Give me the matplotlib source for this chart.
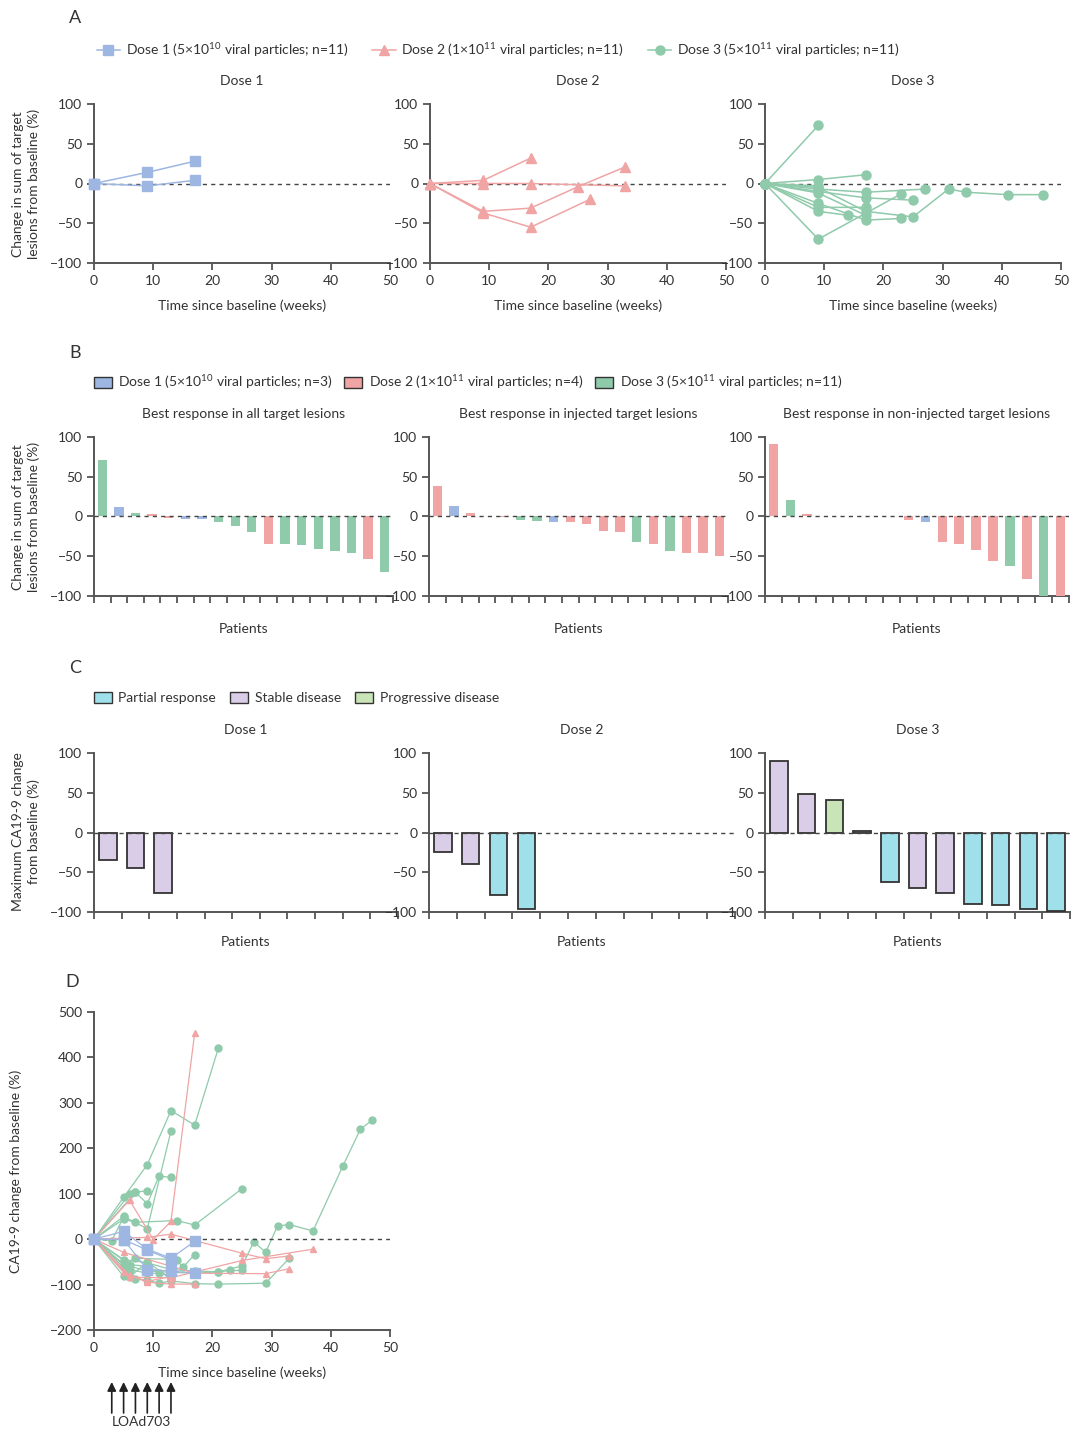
import matplotlib
matplotlib.use('Agg')
from matplotlib import pyplot as plt
from matplotlib.lines import Line2D
from matplotlib.patches import Patch

plt.rcParams['font.family'] = ['Lato', 'DejaVu Sans']
plt.rcParams['font.size'] = 10

# ---- data ----
# panel A: change in sum of target lesions over time
a_dose1_weeks = [[0, 9, 17], [0, 9, 17]]
a_dose1_vals = [[0, 14, 28], [0, -3, 4]]
a_dose2_weeks = [[0, 9, 17], [0, 9, 17, 33], [0, 9, 17, 25, 33], [0, 9, 17, 27]]
a_dose2_vals = [[0, 4, 32], [0, 0, 0, -3], [0, -35, -31, -4, 21], [0, -37, -55, -20]]
a_dose3_weeks = [[0, 9], [0, 9, 17], [0, 9, 17, 27], [0, 9, 17, 25],
                 [0, 9, 17, 25, 31, 34, 41, 47], [0, 9, 17, 23], [0, 9, 14],
                 [0, 9, 17], [0, 9, 23], [0, 9, 17], [0, 9]]
a_dose3_vals = [[0, 73], [0, 5, 11], [0, -7, -11, -7], [0, -10, -18, -21],
                [0, -5, -35, -42, -7, -11, -14, -14], [0, -25, -46, -44], [0, -35, -40],
                [0, -30, -30], [0, -70, -13], [0, -12, -40], [0, -3]]

# panel B: best response (waterfall), dose group per bar
b_all_vals = [71, 12, 4, 3, -2, -3, -3, -7, -12, -20, -34, -35, -36, -41, -44, -46, -54, -70]
b_all_dose = [3, 1, 3, 2, 2, 1, 1, 3, 3, 3, 2, 3, 3, 3, 3, 3, 2, 3]
b_inj_vals = [38, 13, 4, 0, -1, -5, -6, -7, -7, -9, -18, -20, -32, -34, -44, -46, -46, -50]
b_inj_dose = [2, 1, 2, 2, 2, 3, 3, 1, 2, 2, 2, 2, 3, 2, 3, 2, 2, 2]
b_non_vals = [91, 21, 3, 0, 0, 0, 0, 0, -5, -7, -32, -34, -42, -56, -62, -79, -100, -100]
b_non_dose = [2, 3, 2, 2, 2, 2, 2, 2, 2, 1, 2, 2, 2, 2, 3, 2, 3, 2]
b_titles = ['Best response in all target lesions', 'Best response in injected target lesions',
            'Best response in non-injected target lesions']

# panel C: maximum CA19-9 change, response category
c_vals = [[-35, -45, -76], [-24, -40, -79, -96],
          [90, 49, 41, 2, -62, -70, -76, -90, -91, -96, -99]]
c_resp = [['SD', 'SD', 'SD'], ['SD', 'SD', 'PR', 'PR'],
          ['SD', 'SD', 'PD', 'SD', 'PR', 'SD', 'SD', 'PR', 'PR', 'PR', 'PR']]

# panel D: CA19-9 change over time
d_dose1_weeks = [[0, 5, 9, 13, 17], [0, 5, 9, 13], [0, 5, 9, 13, 17]]
d_dose1_vals = [[0, 17, -22, -42, -5], [0, -1, -24, -46], [0, -1, -67, -70, -75]]
d_dose2_weeks = [[0, 6, 10, 13, 17], [0, 9, 13, 25, 29, 33], [0, 5, 17, 29, 33],
                 [0, 6, 13, 25, 37], [0, 5, 9, 13, 17], [0, 6, 9, 13]]
d_dose2_vals = [[0, 86, -1, 39, 453], [0, 4, 11, -31, -43, -37], [0, -29, -75, -76, -65],
                [0, -84, -85, -47, -22], [0, -73, -95, -99, -99], [0, -80, -93, -82]]
d_dose3_weeks = [[0, 5, 9, 13, 17, 21], [0, 5, 9, 13], [0, 7, 9, 11, 13],
                 [0, 5, 7, 14, 17, 25],
                 [0, 5, 9, 13, 17, 21, 25, 27, 29, 31, 33, 37, 42, 45, 47],
                 [0, 5, 7, 9, 11, 13, 17, 21, 29, 33], [0, 5, 9, 13, 17, 21, 23, 25],
                 [0, 5, 7, 14, 15, 17], [0, 6, 9, 11, 13], [0, 3, 5], [0, 6, 9, 13],
                 [0, 6, 7, 9], [0, 5, 6, 9, 13]]
d_dose3_vals = [[0, 92, 164, 283, 251, 420], [0, 50, 23, 238], [0, 103, 78, 139, 136],
                [0, 44, 37, 41, 31, 111],
                [0, -56, -70, -73, -75, -72, -59, -6, -29, 29, 32, 18, 160, 242, 262],
                [0, -82, -88, -90, -97, -92, -98, -99, -97, -42],
                [0, -45, -52, -67, -70, -72, -69, -69],
                [0, -56, -42, -45, -62, -34], [0, -67, -75, -75, -80], [0, -3, 48],
                [0, -56, -60, -85], [0, 99, 103, 107], [0, -62, -84, -50, -88]]
loa_weeks = [3, 5, 7, 9, 11, 13]

# ---- style ----
BLUE = '#9db6e2'
PINK = '#f0a4a4'
GREEN = '#8fcaab'
dose_col = {1: BLUE, 2: PINK, 3: GREEN}
resp_col = {'PR': '#9fe0ea', 'SD': '#d9cde8', 'PD': '#c9e4b6'}
AX = '#555555'
TXT = '#333333'

W, H = 1080, 1436
fig = plt.figure(figsize=(W / 100, H / 100), dpi=100)


def px_axes(x0, x1, ytop, ybot):
    return fig.add_axes([x0 / W, 1 - ybot / H, (x1 - x0) / W, (ybot - ytop) / H])


def style(ax):
    for s in ['top', 'right']:
        ax.spines[s].set_visible(False)
    for s in ['left', 'bottom']:
        ax.spines[s].set_color(AX)
        ax.spines[s].set_linewidth(1.4)
    ax.tick_params(direction='out', length=5, width=1.3, color=AX, labelcolor=TXT, labelsize=10)
    ax.axhline(0, ls=(0, (3, 3)), color='#444444', lw=1, zorder=4)


def ylab(x, ymid, text):
    fig.text(x / W, 1 - ymid / H, text, rotation=90, ha='center', va='center',
             color=TXT, fontsize=10, linespacing=1.3)


def letter(x, y, t):
    fig.text(x / W, 1 - y / H, t, ha='center', va='center', fontsize=13, color=TXT)


def dose_label(n, power, mant, count):
    return r'Dose %d (%d×10$^{\mathregular{%d}}$ viral particles; n=%d)' % (n, mant, power, count)


# ---- panel A ----
letter(75, 18, 'A')
a_sets = [(a_dose1_weeks, a_dose1_vals, BLUE, 's', 7),
          (a_dose2_weeks, a_dose2_vals, PINK, '^', 7),
          (a_dose3_weeks, a_dose3_vals, GREEN, 'o', 6.5)]
for i, (x0, x1) in enumerate([(94, 390), (430, 726), (765, 1061)]):
    ax = px_axes(x0, x1, 104, 263)
    style(ax)
    wk, vl, col, mk, ms = a_sets[i]
    for w, v in zip(wk, vl):
        ax.plot(w, v, color=col, marker=mk, ms=ms, lw=1.1, clip_on=False, zorder=5)
    ax.set_xlim(0, 50)
    ax.set_ylim(-100, 100)
    ax.set_xticks(range(0, 51, 10))
    ax.set_yticks([-100, -50, 0, 50, 100])
    ax.set_title('Dose %d' % (i + 1), fontsize=10, pad=14, color=TXT)
    ax.set_xlabel('Time since baseline (weeks)', labelpad=9, color=TXT)
ylab(26, 184, 'Change in sum of target\nlesions from baseline (%)')
a_handles = [Line2D([], [], color=BLUE, marker='s', ms=7, lw=1.1),
             Line2D([], [], color=PINK, marker='^', ms=7, lw=1.1),
             Line2D([], [], color=GREEN, marker='o', ms=6.5, lw=1.1)]
a_labels = [dose_label(1, 10, 5, 11), dose_label(2, 11, 1, 11), dose_label(3, 11, 5, 11)]
fig.legend(a_handles, a_labels, loc='center left', bbox_to_anchor=(84 / W, 1 - 50 / H),
           ncol=3, frameon=False, handlelength=1.7, columnspacing=1.7, handletextpad=0.4,
           fontsize=10, labelcolor=TXT)

# ---- panel B ----
letter(75, 353, 'B')
b_sets = [(b_all_vals, b_all_dose), (b_inj_vals, b_inj_dose), (b_non_vals, b_non_dose)]
for i, (x0, x1) in enumerate([(94, 393), (429, 728), (765, 1069)]):
    ax = px_axes(x0, x1, 437, 596)
    style(ax)
    vals, doses = b_sets[i]
    ax.bar([k + 0.5 for k in range(len(vals))], vals, width=0.56,
           color=[dose_col[d] for d in doses], zorder=3)
    ax.set_xlim(0, len(vals))
    ax.set_ylim(-100, 100)
    ax.set_xticks(range(len(vals) + 1))
    ax.set_xticklabels([])
    ax.set_yticks([-100, -50, 0, 50, 100])
    ax.set_title(b_titles[i], fontsize=10, pad=14, color=TXT)
    ax.set_xlabel('Patients', labelpad=11, color=TXT)
ylab(26, 517, 'Change in sum of target\nlesions from baseline (%)')
b_handles = [Patch(facecolor=c, edgecolor='#333333', lw=1) for c in (BLUE, PINK, GREEN)]
b_labels = [dose_label(1, 10, 5, 3), dose_label(2, 11, 1, 4), dose_label(3, 11, 5, 11)]
fig.legend(b_handles, b_labels, loc='center left', bbox_to_anchor=(81 / W, 1 - 382 / H),
           ncol=3, frameon=False, handlelength=1.3, handleheight=0.9, columnspacing=0.8,
           handletextpad=0.5, fontsize=10, labelcolor=TXT)

# ---- panel C ----
letter(75, 668, 'C')
for i, (x0, x1) in enumerate([(94, 398), (429, 735), (765, 1070)]):
    ax = px_axes(x0, x1, 753, 912)
    style(ax)
    vals = c_vals[i]
    ax.bar([k + 0.5 for k in range(len(vals))], vals, width=0.63,
           color=[resp_col[r] for r in c_resp[i]], edgecolor='#333333', lw=1.3, zorder=3)
    ax.set_xlim(0, 11)
    ax.set_ylim(-100, 100)
    ax.set_xticks(range(12))
    ax.set_xticklabels([])
    ax.set_yticks([-100, -50, 0, 50, 100])
    ax.set_title('Dose %d' % (i + 1), fontsize=10, pad=14, color=TXT)
    ax.set_xlabel('Patients', labelpad=9, color=TXT)
ylab(26, 832, 'Maximum CA19-9 change\nfrom baseline (%)')
c_handles = [Patch(facecolor=resp_col[k], edgecolor='#333333', lw=1) for k in ('PR', 'SD', 'PD')]
fig.legend(c_handles, ['Partial response', 'Stable disease', 'Progressive disease'],
           loc='center left', bbox_to_anchor=(81 / W, 1 - 698 / H), ncol=3, frameon=False,
           handlelength=1.3, handleheight=0.9, columnspacing=1.0, handletextpad=0.5,
           fontsize=10, labelcolor=TXT)

# ---- panel D ----
letter(72, 982, 'D')
ax = px_axes(94, 390, 1012, 1330)
style(ax)
for w, v in zip(d_dose3_weeks, d_dose3_vals):
    ax.plot(w, v, color=GREEN, marker='o', ms=5, lw=0.9, clip_on=False, zorder=3)
for w, v in zip(d_dose2_weeks, d_dose2_vals):
    ax.plot(w, v, color=PINK, marker='^', ms=5, lw=0.9, clip_on=False, zorder=4)
for w, v in zip(d_dose1_weeks, d_dose1_vals):
    ax.plot(w, v, color=BLUE, marker='s', ms=7, lw=0.9, clip_on=False, zorder=5)
ax.set_xlim(0, 50)
ax.set_ylim(-200, 500)
ax.set_xticks(range(0, 51, 10))
ax.set_yticks(range(-200, 501, 100))
ax.set_xlabel('Time since baseline (weeks)', labelpad=9, color=TXT)
ylab(16, 1171, 'CA19-9 change from baseline (%)')
tr = ax.get_xaxis_transform()
for w in loa_weeks:
    ax.annotate('', xy=(w, -(1382 - 1330) / 318), xytext=(w, -(1413 - 1330) / 318),
                xycoords=tr, textcoords=tr, annotation_clip=False,
                arrowprops=dict(arrowstyle='-|>', color='#222222', lw=1.2,
                                mutation_scale=13, shrinkA=0, shrinkB=0))
ax.text(8, -(1422 - 1330) / 318, 'LOAd703', transform=tr, ha='center', va='center',
        fontsize=10, color=TXT)

fig.savefig('out.png', dpi=100)
